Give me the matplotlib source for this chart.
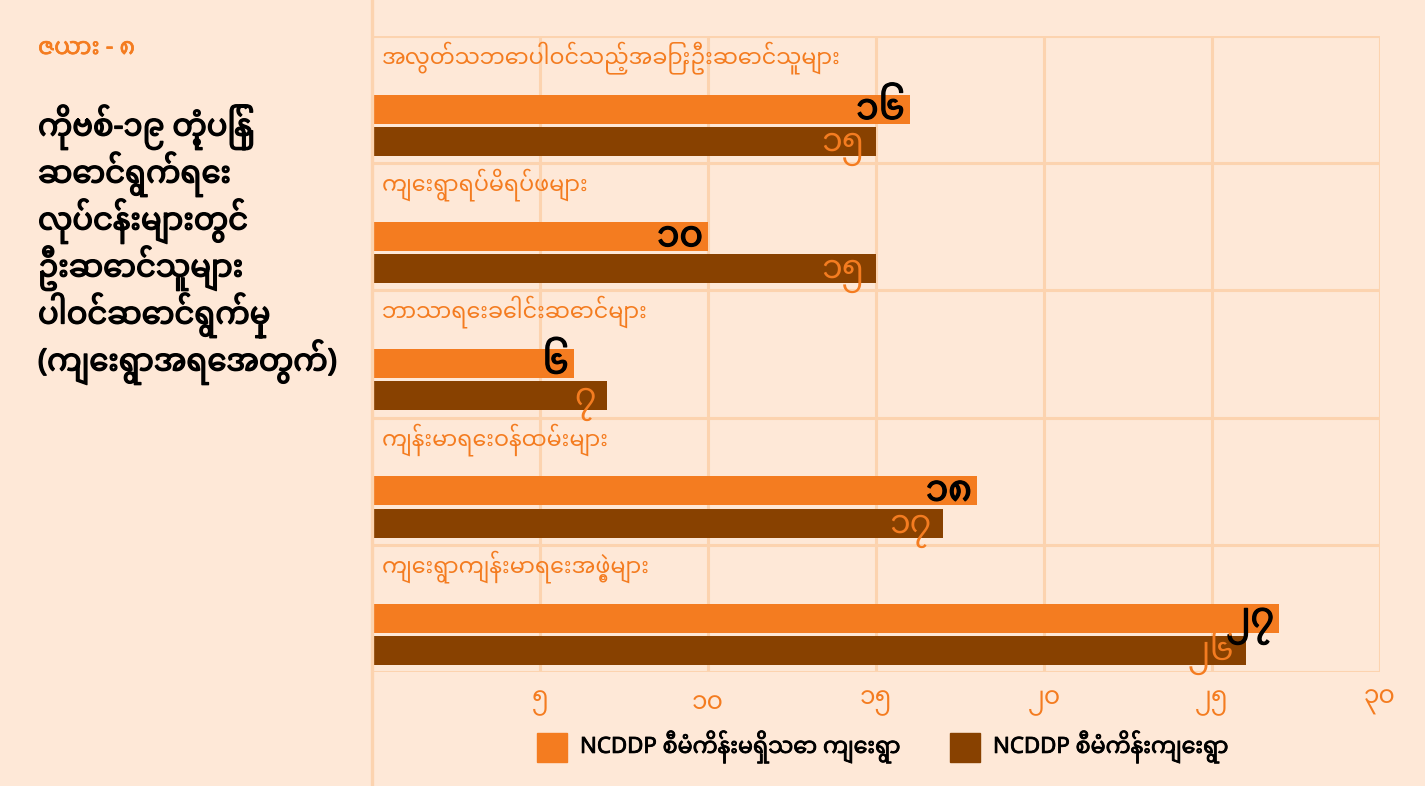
import matplotlib
matplotlib.use("Agg")
import matplotlib.pyplot as plt
import numpy as np
from matplotlib import font_manager
from matplotlib.lines import Line2D
from matplotlib.patches import Rectangle
import matplotlib.patheffects as pe

# ---------------- data ----------------
categories = [
    "အလွတ်သဘောပါဝင်သည့်အခြားဦးဆောင်သူများ",
    "ကျေးရွာရပ်မိရပ်ဖများ",
    "ဘာသာရေးခေါင်းဆောင်များ",
    "ကျန်းမာရေးဝန်ထမ်းများ",
    "ကျေးရွာကျန်းမာရေးအဖွဲ့များ",
]
non_ncddp = [16, 10, 6, 18, 27]   # NCDDP စီမံကိန်းမရှိသော ကျေးရွာ
ncddp = [15, 15, 7, 17, 26]       # NCDDP စီမံကိန်းကျေးရွာ
series_names = ["NCDDP စီမံကိန်းမရှိသော ကျေးရွာ", "NCDDP စီမံကိန်းကျေးရွာ"]
xticks = [5, 10, 15, 20, 25, 30]
table_label = "ဇယား - ၈"
title_lines = [
    "ကိုဗစ်-၁၉ တုံ့ပြန်",
    "ဆောင်ရွက်ရေး",
    "လုပ်ငန်းများတွင်",
    "ဦးဆောင်သူများ",
    "ပါဝင်ဆောင်ရွက်မှု",
    "(ကျေးရွာအရေအတွက်)",
]

# ---------------- fonts ----------------
PREFS = ["Noto Sans Myanmar", "Padauk", "Noto Sans Myanmar UI",
         "Pyidaungsu", "Myanmar Text", "Noto Serif Myanmar", "Yinmar"]


def pick_font():
    entries = font_manager.fontManager.ttflist
    names = {f.name for f in entries}
    for p in PREFS:
        if p in names:
            return p
    try:
        from fontTools.ttLib import TTFont
        for f in entries:
            try:
                cm = TTFont(f.fname, fontNumber=0, lazy=True).getBestCmap()
                if cm and 0x1000 in cm and 0x1040 in cm:
                    return f.name
            except Exception:
                pass
    except Exception:
        pass
    return "DejaVu Sans"


MM = pick_font()
FAM = [MM, "Noto Sans", "DejaVu Sans"]
plt.rcParams["font.family"] = FAM

to_mm = str.maketrans("0123456789", "၀၁၂၃၄၅၆၇၈၉")


def bold_fx(color, stroke):
    """Faux-bold: thicken the regular face with a stroke of the same colour."""
    return [pe.withStroke(linewidth=stroke, foreground=color)]


# ---------------- colours ----------------
BG = "#FEE8D7"
GRID = "#FCD3AF"
ORANGE = "#F47C20"
BROWN = "#884100"

W, H = 1425, 786
fig = plt.figure(figsize=(W / 100, H / 100), dpi=100, facecolor=BG)


def fx(px):
    return px / W


def fy(py):
    return 1 - py / H


ax = fig.add_axes([fx(372), fy(672), fx(1380) - fx(372), fy(36) - fy(672)])
ax.set_facecolor(BG)

n = len(categories)
idx = np.arange(n)
bar_h = 0.228
off_a = 0.577
off_b = 0.829

ax.barh(idx + off_a, non_ncddp, height=bar_h, color=ORANGE, zorder=3)
ax.barh(idx + off_b, ncddp, height=bar_h, color=BROWN, zorder=3)

ax.set_xlim(0, 30)
ax.set_ylim(n, 0)

# grid
ax.set_xticks(xticks)
ax.set_xticklabels([str(v).translate(to_mm) for v in xticks])
ax.set_yticks(np.arange(n + 1))
ax.set_yticklabels([])
ax.grid(True, color=GRID, linewidth=2.2, zorder=0)
ax.set_axisbelow(True)
ax.tick_params(axis="both", length=0)
ax.tick_params(axis="x", pad=13, labelsize=18, labelcolor=ORANGE)
for s in ax.spines.values():
    s.set_visible(False)

# category labels
for i, c in enumerate(categories):
    ax.text(0.3, i + 0.17, c, color=ORANGE, fontsize=16, va="center",
            ha="left", zorder=4)

# value labels
for i, (a, b) in enumerate(zip(non_ncddp, ncddp)):
    ax.text(a - 0.15, i + off_a + 0.075, str(a).translate(to_mm),
            color="black", fontsize=26, ha="right", va="baseline", zorder=5,
            path_effects=bold_fx("black", 0.9))
    ax.text(b - 0.35, i + off_b + 0.075, str(b).translate(to_mm),
            color=ORANGE, fontsize=24, ha="right", va="baseline", zorder=5)

# left separator line across full figure height
fig.add_artist(Line2D([fx(372), fx(372)], [0, 1], color=GRID,
                      linewidth=2.4, transform=fig.transFigure))

# left panel text
fig.text(fx(38), fy(48), table_label, color=ORANGE, fontsize=17,
         ha="left", va="center", path_effects=bold_fx(ORANGE, 0.5))
for k, line in enumerate(title_lines):
    fig.text(fx(38), fy(127 + 47 * k), line, color="black", fontsize=22,
             ha="left", va="center", path_effects=bold_fx("black", 1.0))

# legend
for (x0, tx), name, col in zip([(537, 580), (950, 993)], series_names,
                               [ORANGE, BROWN]):
    fig.add_artist(Rectangle((fx(x0), fy(762)), fx(30), fy(733) - fy(762),
                             transform=fig.transFigure, color=col))
    fig.text(fx(tx), fy(747), name, color="black", fontsize=16,
             ha="left", va="center", path_effects=bold_fx("black", 0.6))

fig.savefig("out.png", dpi=100, facecolor=BG)
